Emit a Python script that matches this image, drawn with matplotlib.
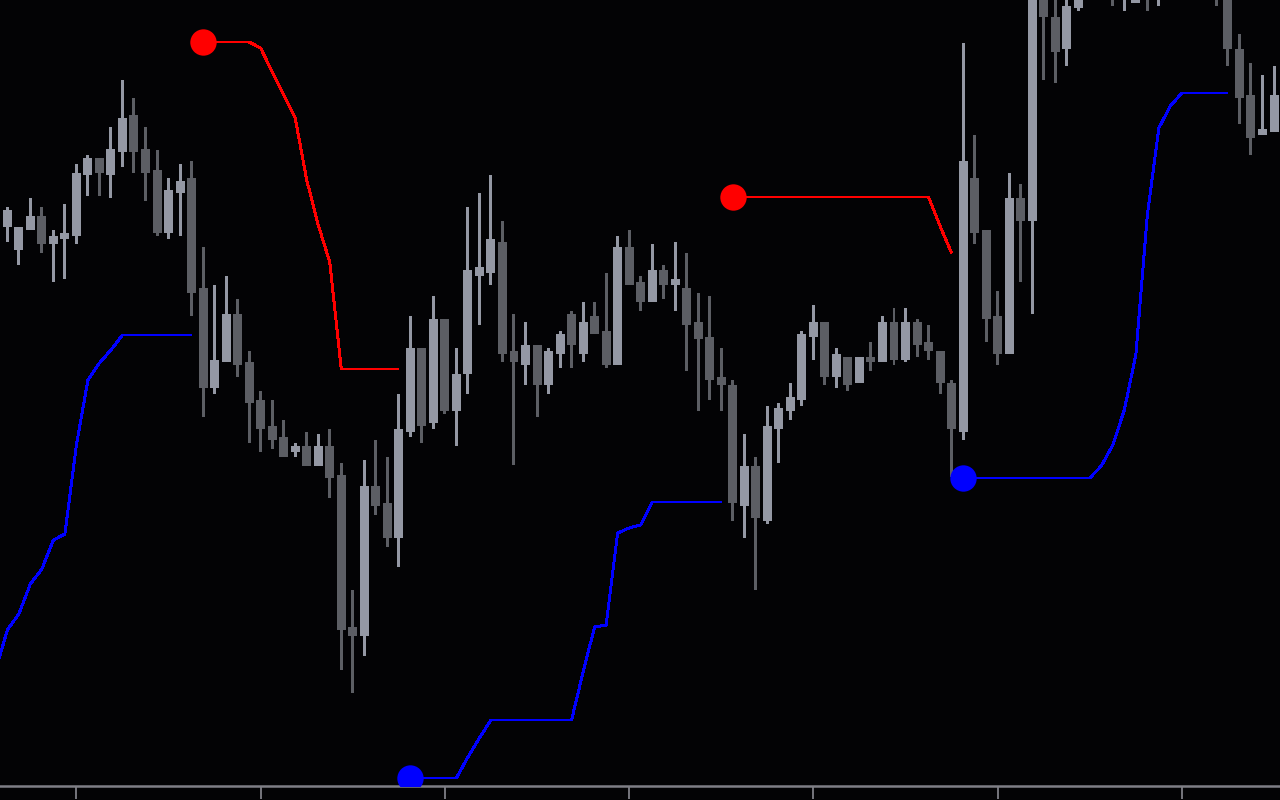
#!/usr/bin/env python3
"""
Свечной график с линиями трейлинг-стопа (красная - сверху, синяя - снизу)
"""

import numpy as np
import matplotlib
matplotlib.use('Agg')
import matplotlib.pyplot as plt

# Цены баров (112 баров, слева направо)
opens = [566, 573, 550, 570, 584, 556, 561, 564, 625, 642, 625, 648, 685, 651, 630, 567,
         607, 622, 512, 412, 438, 486, 438, 400, 374, 363, 348, 354, 334, 354, 325, 173,
         164, 314, 297, 262, 368, 452, 377, 481, 389, 426, 524, 527, 558, 449, 435, 455,
         415, 446, 486, 446, 484, 469, 435, 553, 518, 498, 530, 515, 512, 478, 463, 423,
         415, 294, 334, 279, 371, 389, 400, 463, 478, 423, 443, 417, 443, 438, 478, 440,
         478, 458, 449, 417, 368, 622, 570, 484, 446, 602, 579, 810, 783, 751, 792, 860,
         815, 840, 805, 797, 825, 808, 850, 815, 845, 815, 825, 810, 751, 705, 665, 668]
highs = [585, 593, 573, 602, 593, 570, 596, 636, 645, 642, 673, 720, 702, 673, 650, 622,
         636, 639, 553, 515, 524, 501, 449, 409, 400, 380, 357, 368, 366, 371, 337, 210,
         340, 360, 343, 406, 484, 452, 504, 481, 452, 593, 607, 625, 579, 486, 478, 455,
         452, 469, 489, 498, 498, 527, 564, 570, 524, 556, 535, 558, 547, 507, 504, 452,
         420, 366, 343, 394, 397, 417, 469, 495, 478, 452, 443, 443, 458, 484, 492, 492,
         481, 475, 449, 420, 757, 665, 570, 509, 627, 616, 840, 825, 820, 815, 850, 880,
         870, 860, 850, 840, 845, 850, 870, 860, 855, 860, 840, 830, 766, 737, 725, 734]
lows = [560, 558, 535, 570, 547, 518, 521, 556, 604, 604, 602, 633, 627, 599, 564, 561,
        564, 484, 383, 406, 438, 423, 357, 348, 351, 343, 343, 334, 334, 302, 130, 107,
        144, 285, 253, 233, 363, 357, 371, 386, 354, 406, 475, 515, 438, 335, 415, 383,
        406, 432, 432, 438, 466, 432, 435, 515, 489, 498, 501, 489, 429, 389, 400, 389,
        279, 262, 210, 276, 337, 380, 394, 440, 415, 412, 409, 417, 429, 438, 435, 438,
        443, 440, 406, 323, 360, 556, 458, 435, 446, 518, 486, 720, 717, 734, 789, 805,
        803, 794, 789, 797, 789, 794, 805, 805, 803, 802, 794, 734, 676, 645, 665, 668]
closes = [578, 590, 573, 584, 556, 564, 567, 627, 642, 627, 651, 682, 648, 627, 567, 610,
          619, 507, 412, 440, 486, 435, 397, 371, 360, 343, 354, 334, 354, 322, 170, 164,
          314, 294, 262, 371, 452, 374, 481, 389, 426, 530, 533, 561, 446, 438, 455, 415,
          449, 466, 455, 478, 466, 435, 553, 515, 498, 530, 515, 521, 475, 461, 420, 415,
          297, 334, 282, 374, 392, 403, 466, 478, 423, 446, 415, 443, 438, 478, 440, 478,
          455, 449, 417, 371, 639, 567, 481, 446, 602, 579, 815, 783, 748, 794, 830, 820,
          850, 810, 835, 820, 805, 830, 820, 840, 820, 840, 805, 751, 702, 662, 671, 705]

# Красная линия (стоп для коротких), None - нет значения
upper = [None, None, None, None, None, None, None, None, None, None, None, None,
         None, None, None, None, None, None,
         758, 758, 758, 758, 758, 752, 728, 705, 682, 620, 575, 538, 431, 431, 431, 431,
         431, 431,
         None, None, None, None, None, None, None, None, None, None, None, None, None, None,
         None, None, None, None, None, None, None, None, None, None, None, None, None, None,
         603, 603, 603, 603, 603, 603, 603, 603, 603, 603, 603, 603, 603, 603, 603, 603,
         603, 603, 574, 547,
         None, None, None, None, None, None, None, None, None, None, None, None, None, None,
         None, None, None, None, None, None, None, None, None, None, None, None, None, None]

# Синяя линия (стоп для длинных)
lower = [130, 170, 186, 216, 231, 260, 266, 355, 420, 437, 450, 465, 465, 465, 465, 465,
         465, 465,
         None, None, None, None, None, None, None, None, None, None, None, None, None, None,
         None, None, None, None,
         22, 22, 22, 22, 22, 43, 62, 80, 80, 80, 80, 80, 80, 80, 80, 128, 173, 175, 267, 272,
         275, 298, 298, 298, 298, 298, 298, 298,
         None, None, None, None, None, None, None, None, None, None, None, None, None, None,
         None, None, None, None, None, None,
         322, 322, 322, 322, 322, 322, 322, 322, 322, 322, 322, 322, 334, 355, 390, 445,
         585, 672, 694, 707, 707, 707, 707, 707, None, None, None, None]

BG = '#030305'
UP_COLOR = '#9498a4'
DOWN_COLOR = '#5c5e64'
AXIS_COLOR = '#7e7e86'


def plot_chart(output_file):
    """Построение свечей и линий стопа"""
    o = np.array(opens, dtype=float)
    h = np.array(highs, dtype=float)
    l = np.array(lows, dtype=float)
    c = np.array(closes, dtype=float)
    up_line = np.array(upper, dtype=float)
    dn_line = np.array(lower, dtype=float)
    x = np.arange(len(o))

    fig = plt.figure(figsize=(12.8, 8), dpi=100, facecolor=BG)
    ax = fig.add_axes([0, 14 / 800, 1, 786 / 800])
    ax.set_facecolor(BG)

    colors = np.where(c >= o, UP_COLOR, DOWN_COLOR)

    # Тени и тела свечей (без сглаживания, как в терминале)
    ax.bar(x, h - l, bottom=l, width=0.26, color=colors, linewidth=0,
           antialiased=False, zorder=2)
    ax.bar(x, np.abs(c - o), bottom=np.minimum(o, c), width=0.78, color=colors,
           linewidth=0, antialiased=False, zorder=3)

    # Линии стопа
    ax.plot(x, up_line, color='#ff0000', linewidth=1.4, solid_capstyle='butt',
            antialiased=False, zorder=4)
    ax.plot(x, dn_line, color='#0000ff', linewidth=1.4, solid_capstyle='butt',
            antialiased=False, zorder=4)

    # Точки разворота - первый бар каждого участка линии
    for line, col in ((up_line, '#ff0000'), (dn_line, '#0000ff')):
        starts = [i for i in range(1, len(line))
                  if not np.isnan(line[i]) and np.isnan(line[i - 1])]
        ax.plot(x[starts], line[starts], 'o', color=col, markersize=19,
                markeredgewidth=0, zorder=5)

    ax.set_xlim(0.365, 111.52)
    ax.set_ylim(14, 800)

    for side in ('top', 'left', 'right'):
        ax.spines[side].set_visible(False)
    ax.spines['bottom'].set_color(AXIS_COLOR)
    ax.spines['bottom'].set_linewidth(1.8)
    ax.set_yticks([])
    ax.set_xticks(np.arange(7, len(o), 16))
    ax.tick_params(axis='x', direction='out', length=9.5, width=1.3,
                   color=AXIS_COLOR, labelbottom=False)

    fig.savefig(output_file, dpi=100, facecolor=BG)
    plt.close(fig)


def main():
    plot_chart('out.png')


if __name__ == '__main__':
    main()
